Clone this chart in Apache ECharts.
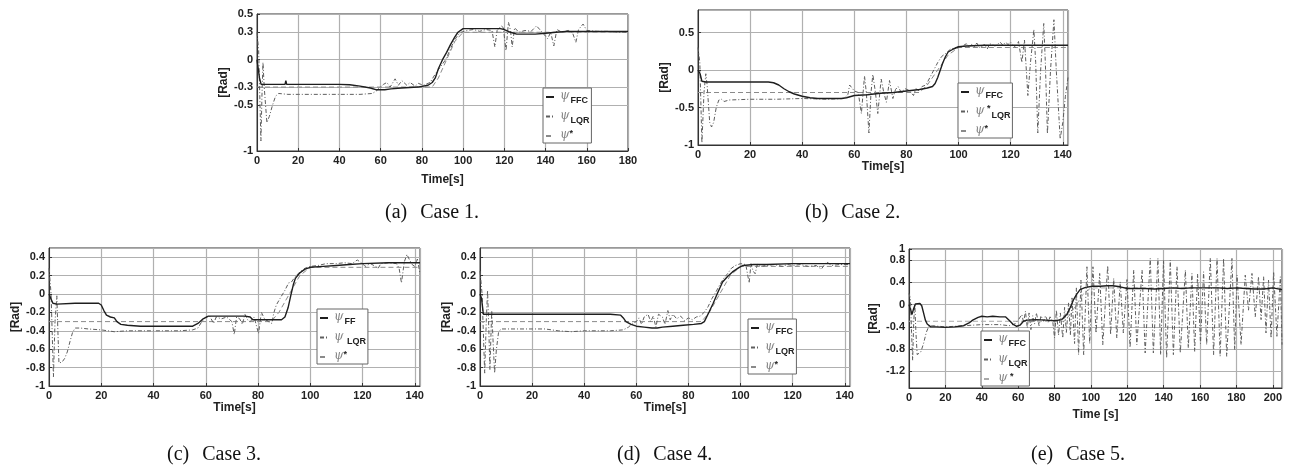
<!DOCTYPE html>
<html><head><meta charset="utf-8">
<script src="https://cdn.jsdelivr.net/npm/echarts@6/dist/echarts.min.js"></script>
<style>html,body{margin:0;padding:0;background:#fff}#c{width:1294px;height:468px}</style>
</head><body><div id="c"></div>
<script>
// ---------------- DATA ----------------
const yTicks1 = [-1, -0.5, -0.3, 0, 0.3, 0.5];
const yTicks5 = [-1.2, -0.8, -0.4, 0, 0.4, 0.8, 1];
const capTags = ['(a)', '(b)', '(c)', '(d)', '(e)'];
const capTexts = ['Case 1.', 'Case 2.', 'Case 3.', 'Case 4.', 'Case 5.'];

// Case 1
const c1_ffc = [[0,0],[0.5,-0.02],[1.2,-0.2],[2,-0.27],[5,-0.27],[10,-0.27],[13.6,-0.27],[14,-0.23],[14.4,-0.27],[20,-0.27],[30,-0.27],[40,-0.27],[45,-0.275],[50,-0.29],[55,-0.31],[58,-0.33],[62,-0.33],[65,-0.32],[70,-0.31],[78,-0.3],[83,-0.28],[85,-0.25],[86.5,-0.2],[88,-0.1],[90,0],[92,0.08],[94,0.17],[96,0.25],[97.5,0.3],[100,0.34],[105,0.34],[110,0.34],[118,0.34],[120,0.33],[123,0.3],[126,0.28],[130,0.28],[135,0.28],[140,0.29],[145,0.3],[150,0.31],[160,0.31],[170,0.31],[180,0.31]];
const c1_lqr = [[0,0.3],[0.8,0.1],[1.9,-0.89],[2.4,-0.4],[2.9,-0.03],[3.5,-0.3],[4.8,-0.69],[6,-0.62],[7.5,-0.5],[9,-0.4],[10.5,-0.37],[15,-0.38],[20,-0.38],[30,-0.38],[40,-0.38],[50,-0.38],[56,-0.37],[58,-0.34],[59.8,-0.3],[61.4,-0.27],[63,-0.25],[64.6,-0.3],[67,-0.21],[68.6,-0.28],[70.3,-0.23],[72.7,-0.28],[74.3,-0.25],[76.7,-0.29],[78.3,-0.26],[80.8,-0.28],[84,-0.25],[85.6,-0.19],[87.3,-0.13],[89,-0.08],[91.5,0],[93.5,0.1],[95.5,0.2],[97.5,0.27],[99,0.3],[102,0.32],[105,0.33],[108,0.31],[111,0.33],[114,0.32],[115.4,0.14],[116.5,0.32],[118.5,0.37],[119.5,0.35],[120.8,0.1],[122,0.41],[123,0.32],[123.8,0.14],[125,0.35],[127,0.3],[130,0.32],[133,0.31],[135.6,0.37],[138,0.31],[141,0.23],[142.5,0.3],[144,0.15],[145.5,0.33],[148,0.3],[151,0.32],[153,0.3],[154.7,0.19],[156,0.33],[158.2,0.39],[160,0.32],[165,0.31],[170,0.31],[175,0.3],[180,0.3]];
const c1_ref = [[0,-0.3],[85,-0.3],[88,-0.2],[92,0],[96,0.2],[100,0.3],[180,0.3]];

// Case 2
const c2_ffc = [[0,0],[0.8,-0.05],[1.5,-0.15],[3,-0.16],[10,-0.16],[20,-0.16],[27,-0.16],[29,-0.17],[31,-0.2],[33,-0.25],[35,-0.29],[37,-0.32],[40,-0.35],[43,-0.37],[46,-0.38],[50,-0.38],[55,-0.38],[57,-0.37],[60,-0.34],[65,-0.33],[70,-0.31],[75,-0.3],[80,-0.28],[85,-0.26],[88,-0.24],[90,-0.22],[91,-0.18],[92,-0.1],[93,0],[94,0.1],[95,0.18],[96,0.24],[98,0.28],[100,0.31],[103,0.32],[110,0.33],[120,0.33],[130,0.33],[142,0.33]];
const c2_lqr = [[0,0.3],[0.7,0.1],[1.5,-0.97],[2.3,-0.3],[3,-0.05],[3.5,-0.2],[4.5,-0.7],[5.2,-0.76],[6,-0.7],[7,-0.5],[8,-0.4],[9,-0.39],[10,-0.42],[12,-0.4],[20,-0.39],[30,-0.39],[40,-0.38],[50,-0.39],[56,-0.38],[57.5,-0.33],[58.2,-0.2],[60,-0.28],[61.5,-0.3],[62.7,-0.58],[63.9,-0.08],[64.6,-0.3],[65.6,-0.84],[66.4,-0.3],[67.1,-0.06],[68.1,-0.3],[69,-0.58],[70.3,-0.12],[71.3,-0.3],[72.3,-0.43],[73.5,-0.14],[74.8,-0.38],[75.8,-0.26],[76.8,-0.22],[78,-0.3],[79.5,-0.25],[81,-0.27],[82.7,-0.34],[83.6,-0.25],[85,-0.28],[86,-0.22],[87.5,-0.2],[89,-0.1],[90.5,0],[92,0.1],[93.5,0.18],[95,0.22],[97,0.28],[99,0.3],[101,0.31],[103,0.35],[104,0.3],[105,0.34],[106,0.31],[107,0.36],[108,0.3],[110,0.34],[111,0.28],[112,0.35],[114,0.32],[116,0.37],[117,0.33],[118,0.37],[119,0.34],[120,0.37],[121,0.33],[122,0.3],[123,0.38],[124.3,0.1],[125.3,0.4],[126.6,-0.34],[127.6,0.1],[128.9,0.54],[129.6,0.1],[130.4,-0.84],[131.5,0],[132.7,0.62],[133.3,0.1],[134.1,-0.85],[135.3,0],[136.6,0.67],[137.5,0],[139,-0.92],[140,-0.7],[141,-0.35],[142,-0.1]];
const c2_ref = [[0,-0.3],[85,-0.3],[88,-0.2],[92,0],[96,0.2],[100,0.3],[142,0.3]];

// Case 3
const c3_ffc = [[0,0],[0.7,-0.05],[1.5,-0.1],[3,-0.11],[10,-0.1],[15,-0.1],[19,-0.1],[20,-0.12],[21,-0.18],[22,-0.23],[23.5,-0.25],[25,-0.26],[26,-0.3],[27.5,-0.33],[30,-0.34],[35,-0.35],[40,-0.35],[45,-0.35],[50,-0.35],[55,-0.35],[57,-0.32],[59,-0.27],[61,-0.24],[65,-0.24],[70,-0.24],[75,-0.24],[77,-0.25],[78,-0.28],[80,-0.28],[85,-0.28],[89,-0.28],[90.3,-0.25],[91.5,-0.15],[92.6,-0.01],[93.5,0.1],[94.3,0.17],[96,0.23],[98,0.27],[100,0.29],[105,0.3],[110,0.31],[115,0.32],[120,0.33],[130,0.34],[142,0.34]];
const c3_lqr = [[0,0.28],[0.8,0.0],[1.7,-0.9],[2.3,-0.3],[3,-0.02],[3.4,-0.4],[3.8,-0.75],[5,-0.74],[6,-0.7],[7,-0.63],[8,-0.52],[9,-0.42],[10,-0.37],[12,-0.37],[15,-0.38],[20,-0.39],[25,-0.41],[30,-0.4],[40,-0.4],[50,-0.4],[55,-0.39],[57,-0.37],[58.5,-0.3],[60,-0.25],[61.5,-0.24],[63,-0.32],[64,-0.25],[66,-0.27],[68,-0.25],[70,-0.3],[70.9,-0.44],[71.8,-0.25],[73,-0.27],[74,-0.33],[75,-0.22],[76,-0.28],[77,-0.3],[78.5,-0.25],[80.2,-0.43],[81.3,-0.2],[82.5,-0.27],[84,-0.3],[85.3,-0.32],[86,-0.21],[87,-0.12],[88.4,-0.05],[90.3,0.04],[91.7,0.12],[92.8,0.13],[94,0.18],[96,0.24],[98,0.28],[100,0.3],[103,0.31],[106,0.33],[110,0.33],[113,0.34],[116,0.33],[118,0.37],[120,0.33],[121,0.3],[123,0.33],[125,0.3],[126,0.28],[127,0.33],[130,0.34],[133,0.33],[134,0.28],[134.9,0.12],[136,0.35],[137,0.43],[138,0.37],[139,0.32],[140,0.3],[141,0.38],[142,0.22]];
const c3_ref = [[0,-0.3],[85,-0.3],[88,-0.2],[92,0],[96,0.2],[100,0.29],[142,0.29]];

// Case 4
const c4_ffc = [[0,0],[0.6,-0.05],[1.3,-0.22],[3,-0.22],[10,-0.22],[20,-0.22],[30,-0.22],[40,-0.22],[50,-0.22],[54,-0.23],[55,-0.26],[56,-0.3],[58,-0.33],[60,-0.35],[63,-0.36],[66,-0.37],[68,-0.37],[70,-0.36],[74,-0.35],[78,-0.34],[82,-0.33],[85,-0.32],[86.1,-0.3],[88,-0.19],[89.5,-0.1],[91,0],[93.1,0.13],[95,0.19],[96.9,0.24],[99.5,0.29],[101,0.31],[105,0.32],[110,0.32],[120,0.33],[130,0.33],[142,0.33]];
const c4_lqr = [[0,0.25],[0.8,0],[1.8,-0.86],[2.4,-0.3],[2.9,0.04],[3.4,-0.4],[3.8,-0.82],[4.5,-0.18],[5,-0.5],[5.6,-0.86],[6.3,-0.6],[7.1,-0.42],[8,-0.38],[10,-0.38],[15,-0.38],[20,-0.38],[25,-0.38],[30,-0.4],[35,-0.41],[40,-0.4],[45,-0.4],[50,-0.4],[55,-0.39],[57,-0.36],[58.5,-0.32],[60,-0.3],[61,-0.26],[62,-0.33],[63,-0.25],[64.5,-0.22],[65.5,-0.3],[66.5,-0.24],[67.5,-0.36],[68.5,-0.22],[70,-0.25],[71,-0.33],[72.1,-0.18],[73,-0.28],[74,-0.22],[75.5,-0.27],[77,-0.24],[78.5,-0.29],[80,-0.26],[81.5,-0.28],[83,-0.25],[84.5,-0.24],[86,-0.2],[87.5,-0.14],[89,-0.05],[90.5,0.02],[92,0.1],[93.5,0.17],[95,0.22],[96.5,0.28],[98,0.31],[100,0.33],[102,0.32],[103.3,0.12],[104,0.33],[104.8,0.25],[105.6,0.22],[106.5,0.33],[108,0.3],[110,0.31],[113,0.32],[116,0.3],[118,0.32],[120,0.31],[123,0.32],[126,0.3],[129,0.31],[131,0.27],[133,0.35],[135,0.31],[138,0.32],[142,0.32]];
const c4_ref = [[0,-0.3],[85,-0.3],[88,-0.2],[92,0],[96,0.2],[100,0.3],[142,0.3]];

// Case 5
const c5_ffc = [[0,0],[1,-0.1],[1.6,-0.18],[2.5,-0.08],[3.5,0.01],[4.4,0.03],[6,0.02],[7,-0.02],[8,-0.15],[9,-0.28],[10,-0.35],[12,-0.4],[15,-0.4],[20,-0.41],[25,-0.4],[30,-0.38],[33,-0.33],[35,-0.28],[38,-0.23],[40,-0.21],[43,-0.22],[46,-0.21],[50,-0.22],[53,-0.22],[55.6,-0.3],[57,-0.35],[59.2,-0.39],[61,-0.37],[62.9,-0.3],[65,-0.28],[70,-0.27],[75,-0.28],[80,-0.29],[84,-0.27],[86.7,-0.18],[88.5,-0.06],[90.3,0.08],[92,0.18],[94,0.27],[97,0.31],[101,0.33],[105,0.33],[109,0.34],[112,0.34],[116,0.32],[120,0.29],[125,0.29],[130,0.29],[135,0.28],[140,0.29],[145,0.3],[150,0.29],[155,0.3],[160,0.3],[165,0.3],[170,0.3],[175,0.29],[180,0.3],[185,0.29],[190,0.28],[195,0.28],[200,0.3],[205,0.27]];
const c5_lqr = [[0,0.2],[0.8,0.1],[1.4,-0.5],[2,-1.0],[2.6,-0.3],[3.2,0.0],[3.8,-0.5],[4.5,-0.9],[5.5,-0.93],[6.5,-0.85],[8,-0.7],[9.5,-0.5],[11,-0.38],[13,-0.38],[20,-0.4],[30,-0.38],[40,-0.36],[50,-0.36],[55,-0.38],[58,-0.35],[60,-0.28],[61,-0.3],[62,-0.18],[63,-0.32],[64,-0.12],[65,-0.42],[66,-0.15],[67,-0.45],[68,-0.2],[69,-0.35],[70,-0.15],[71.5,-0.38],[72.5,-0.2],[74,-0.3],[75,-0.2],[76.5,-0.32],[77.5,-0.22],[79,-0.3],[80,-0.6],[81,-0.1],[82.2,-0.55],[83.2,-0.15],[84.5,-0.6],[85.5,-0.05],[86.5,-0.5],[87.7,0.03],[88.7,-0.55],[89.6,0.12],[91,-0.7],[92,0.3],[93.2,-0.9],[94.5,0.44],[96,-0.9],[97.8,0.68],[99.3,-0.7],[101.1,0.68],[102.8,-0.51],[104.8,0.56],[106.5,-0.72],[109.2,0.7],[110.8,-0.54],[112.5,0.47],[114.2,-0.6],[116.1,0.41],[117.8,-0.51],[119.8,0.45],[121.5,-0.77],[123.5,0.62],[125.2,-0.72],[128.1,0.62],[129.8,-0.87],[132.6,0.83],[134.3,-0.87],[136.8,0.83],[138.3,-0.9],[139.9,0.8],[141.6,-0.96],[143.6,0.8],[145.3,-0.9],[147.3,0.68],[149.1,-0.87],[151.9,0.62],[153.5,-0.78],[155.5,0.56],[157,-0.84],[158.6,0.55],[160.2,-0.7],[161.9,0.59],[163.6,-0.72],[165.6,0.83],[167.4,-0.9],[169.3,0.83],[171,-0.93],[172.9,0.83],[174.6,-0.93],[177.5,0.83],[179,-0.81],[180.3,0.53],[182.5,-0.72],[184.8,0.53],[186.6,-0.1],[188.5,0.56],[190.3,-0.22],[192.1,0.5],[193.5,-0.27],[194.9,0.5],[196.2,-0.51],[197.6,0.44],[199,-0.6],[200.4,0.59],[202.2,-0.57],[204.1,0.5],[205,-0.72]];
const c5_ref = [[0,-0.3],[85,-0.3],[88,-0.2],[92,0],[96,0.2],[100,0.3],[205,0.3]];

const legendLabels = {
  c1_ffc:'{p|ψ}{s|FFC}', c1_lqr:'{p|ψ}{s|LQR}', c1_ref:'{p|ψ}{u|*}',
  c2_ffc:'{p|ψ}{s|FFC}', c2_lqr:'{p|ψ}{u| *}{s|LQR}', c2_ref:'{p|ψ}{u|*}',
  c3_ffc:'{p|ψ}{s|FF}', c3_lqr:'{p|ψ}{s| LQR}', c3_ref:'{p|ψ}{u|*}',
  c4_ffc:'{p|ψ}{s|FFC}', c4_lqr:'{p|ψ}{s|LQR}', c4_ref:'{p|ψ}{u|*}',
  c5_ffc:'{p|ψ}{s|FFC}', c5_lqr:'{p|ψ}{s|LQR}', c5_ref:'{p|ψ}{u| *}'
};

// ---------------- LAYOUT ----------------
const panels = [
  {grid:{left:257,top:14,width:371,height:137}, xmax:180, ymin:-1, ymax:0.5, ycustom:yTicks1, xname:'Time[s]', xgap:23, ygap:25, legend:{left:543,top:88}, cap:[385,213], ffc:c1_ffc, lqr:c1_lqr, ref:c1_ref, key:'c1'},
  {grid:{left:698,top:10,width:370,height:135}, xmax:142, ymin:-1, ymax:0.8, yint:0.5, xname:'Time[s]', xgap:15, ygap:26, legend:{left:958,top:83}, cap:[805,213], ffc:c2_ffc, lqr:c2_lqr, ref:c2_ref, key:'c2'},
  {grid:{left:49,top:248,width:371,height:138}, xmax:142, ymin:-1, ymax:0.5, yint:0.2, xname:'Time[s]', xgap:14, ygap:27, legend:{left:317,top:309}, cap:[167,455], ffc:c3_ffc, lqr:c3_lqr, ref:c3_ref, key:'c3'},
  {grid:{left:480,top:248,width:370,height:138}, xmax:142, ymin:-1, ymax:0.5, yint:0.2, xname:'Time[s]', xgap:14, ygap:27, legend:{left:748,top:319}, cap:[617,455], ffc:c4_ffc, lqr:c4_lqr, ref:c4_ref, key:'c4'},
  {grid:{left:909,top:249,width:373,height:139}, xmax:205, ymin:-1.5, ymax:1, ycustom:yTicks5, xname:'Time [s]', xgap:21, ygap:29, legend:{left:981,top:331}, cap:[1031,455], ffc:c5_ffc, lqr:c5_lqr, ref:c5_ref, key:'c5'}
];

const FONT = 'Liberation Sans';
const lblStyle = {fontFamily:FONT, fontWeight:'bold', fontSize:11, color:'#222'};
const nameStyle = {fontFamily:FONT, fontWeight:'bold', fontSize:12, color:'#222'};
const gridLine = {show:true, lineStyle:{color:'#b0b0b0', width:1.2}};
const frame = {show:true, onZero:false, lineStyle:{color:'#333', width:1}};

const option = {
  animation:false,
  backgroundColor:'#fff',
  grid:[], xAxis:[], yAxis:[], series:[], legend:[], graphic:[]
};

panels.forEach((p, i) => {
  option.grid.push(Object.assign({show:true, borderColor:'#333', borderWidth:1, backgroundColor:'#fff'}, p.grid));
  option.xAxis.push({
    type:'value', gridIndex:i, min:0, max:p.xmax, interval:20,
    name:p.xname, nameLocation:'middle', nameGap:p.xgap, nameTextStyle:nameStyle,
    axisLine:frame, axisTick:{show:true, inside:true, length:3, lineStyle:{color:'#333'}},
    axisLabel:Object.assign({margin:4, showMaxLabel: p.xmax % 20 === 0, showMinLabel:true}, lblStyle),
    splitLine:gridLine
  });
  const ya = {
    type:'value', gridIndex:i, min:p.ymin, max:p.ymax,
    name:'[Rad]', nameLocation:'middle', nameGap:p.ygap, nameTextStyle:nameStyle,
    axisLine:frame, axisTick:{show:true, inside:true, length:3, lineStyle:{color:'#333'}},
    axisLabel:Object.assign({margin:4}, lblStyle),
    splitLine:gridLine
  };
  if (p.ycustom) {
    ya.axisTick.customValues = p.ycustom;
    ya.axisLabel.customValues = p.ycustom;
  } else {
    ya.interval = p.yint;
    ya.axisLabel.showMaxLabel = false;
  }
  option.yAxis.push(ya);

  const refColor = i === 4 ? '#aaaaaa' : '#8a8a8a';
  option.series.push(
    {name:p.key+'_ref', type:'line', xAxisIndex:i, yAxisIndex:i, data:p.ref, symbol:'none', z:2,
     lineStyle:{color:refColor, width:1, type:[5,3]}, itemStyle:{color:refColor}},
    {name:p.key+'_lqr', type:'line', xAxisIndex:i, yAxisIndex:i, data:p.lqr, symbol:'none', z:3,
     lineStyle:{color:'#5e5e5e', width:1, type:[4,2,1,2]}, itemStyle:{color:'#5e5e5e'}},
    {name:p.key+'_ffc', type:'line', xAxisIndex:i, yAxisIndex:i, data:p.ffc, symbol:'none', z:4,
     lineStyle:{color:'#1e1e1e', width:1.4}, itemStyle:{color:'#1e1e1e'}}
  );
  option.legend.push({
    data:[p.key+'_ffc', p.key+'_lqr', p.key+'_ref'], orient:'vertical',
    left:p.legend.left, top:p.legend.top, itemWidth:8, itemHeight:8, itemGap:4, itemTextGap:2,
    padding:[2,2,2,2], borderColor:'#666', borderWidth:1, backgroundColor:'#fff',
    selectedMode:false, z:10,
    itemStyle:{opacity:0},
    formatter:(n) => legendLabels[n],
    textStyle:{
      rich:{
        p:{fontFamily:'DejaVu Serif', fontStyle:'italic', fontSize:12, color:'#888', padding:[0,0,2,1]},
        s:{fontFamily:FONT, fontWeight:'bold', fontSize:9, color:'#222', padding:[8,0,0,1]},
        u:{fontFamily:FONT, fontWeight:'bold', fontSize:9, color:'#222', padding:[0,0,5,0]}
      }
    }
  });
  option.graphic.push({type:'text', x:p.cap[0], y:p.cap[1],
    style:{text:'{t|'+capTags[i]+'}{c|'+capTexts[i]+'}', fill:'#111', verticalAlign:'middle', align:'left',
      rich:{
        t:{fontFamily:'Liberation Serif', fontSize:20, fill:'#111'},
        c:{fontFamily:'Liberation Serif', fontSize:20, fill:'#111', padding:[0,0,0,13]}
      }}});
});

const chart = echarts.init(document.getElementById('c'), null, {renderer:'canvas'});
chart.setOption(option);
</script></body></html>
